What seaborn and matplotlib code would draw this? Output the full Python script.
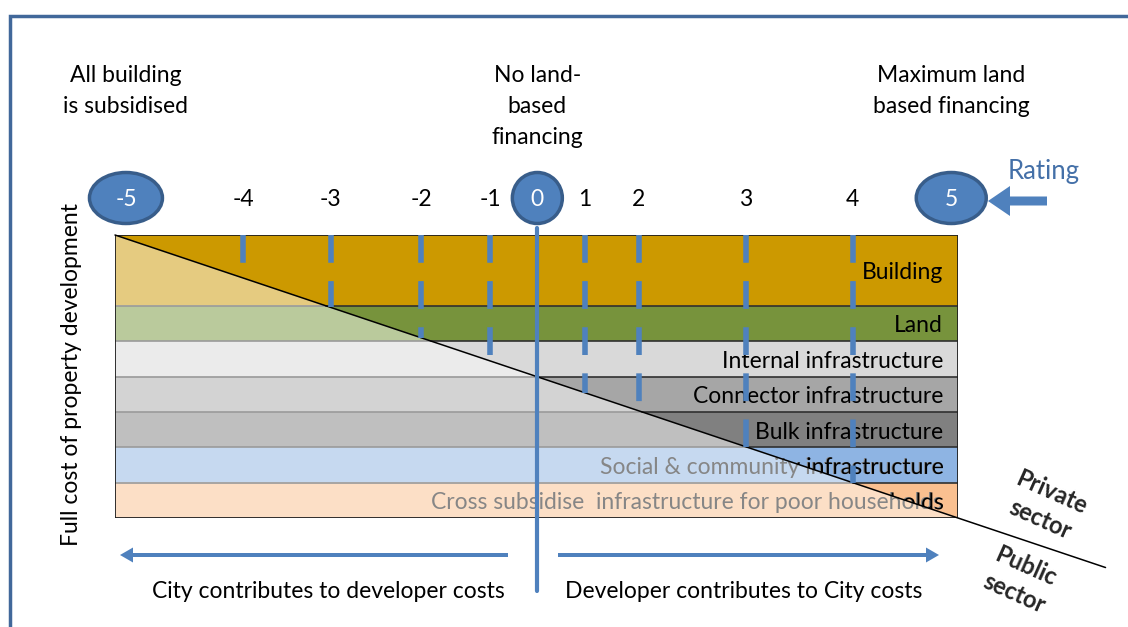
import numpy as np
import matplotlib.pyplot as plt
from matplotlib.patches import Polygon, Rectangle, Ellipse, FancyArrow, PathPatch
from matplotlib.transforms import blended_transform_factory, Affine2D
from matplotlib.textpath import TextPath
from matplotlib.font_manager import FontProperties
import seaborn as sns

sns.set_theme(style="white")
plt.rcParams['font.family'] = ['Lato', 'DejaVu Sans']

# cost components, top to bottom, and their share of the full cost
bands = ['Building', 'Land', 'Internal infrastructure', 'Connector infrastructure',
         'Bulk infrastructure', 'Social & community infrastructure',
         'Cross subsidise  infrastructure for poor households']
band_size = [2, 1, 1, 1, 1, 1, 1]
private_colors = ['#CC9900', '#77933C', '#D9D9D9', '#A6A6A6', '#808080', '#8EB4E3', '#FAC090']
public_colors = ['#E5CB80', '#BACA9C', '#EBEBEB', '#D3D3D3', '#BFBFBF', '#C6D9F0', '#FCDFC6']
public_text = ['black', 'black', 'black', 'black', 'black', '#868686', '#868686']

# rating scale and where each rating sits along the cost line
ratings = [-5, -4, -3, -2, -1, 0, 1, 2, 3, 4, 5]
rating_share = [0.013, 0.152, 0.256, 0.363, 0.445, 0.501, 0.557, 0.621, 0.748, 0.875, 0.992]
circled = {-5: 73, 0: 50, 5: 70}

headers = ['All building\nis subsidised', 'No land-\nbased\nfinancing', 'Maximum land\nbased financing']
header_rating = [-5, 0, 5]

FS = 16.5
W, H = 1128, 627
fig = plt.figure(figsize=(W / 100, H / 100), dpi=100)
fig.patch.set_facecolor('white')

# main axes = the cost box
ax = fig.add_axes([115 / W, 1 - 518 / H, 843 / W, 283 / H])
ax.set_facecolor('none')
ox = fig.add_axes([0, 0, 1, 1], zorder=5)
ox.set_xlim(0, W)
ox.set_ylim(H, 0)
ox.axis('off')
trans = blended_transform_factory(ax.transData, ox.transData)

total = sum(band_size)
edges = np.concatenate([[0], np.cumsum(band_size)])
ax.set_xlim(0, 1)
ax.set_ylim(total, 0)
fp = FontProperties(family='Lato')
fs_px = FS * 100 / 72
px_per_unit = 283 / total
label_right = 943

for i, name in enumerate(bands):
    y0, y1 = edges[i], edges[i + 1]
    d0, d1 = y0 / total, y1 / total   # diagonal crossing
    light = Polygon([(0, y0), (d0, y0), (d1, y1), (0, y1)], closed=True,
                    facecolor=public_colors[i], edgecolor='none', zorder=1)
    dark = Polygon([(d0, y0), (1, y0), (1, y1), (d1, y1)], closed=True,
                   facecolor=private_colors[i], edgecolor='none', zorder=1)
    ax.add_patch(light)
    ax.add_patch(dark)
    if i > 0:
        ax.plot([0, d0], [y0, y0], color='#9A9A9A', lw=1.2, zorder=2)
        ax.plot([d0, 1], [y0, y0], color='#303030', lw=1.2, zorder=2)
    base = 235 + (y0 + y1) / 2 * px_per_unit + 9
    ax.text(label_right, base, name, transform=ox.transData, ha='right', va='baseline',
            fontsize=FS, color=public_text[i], zorder=3)
    if public_text[i] != 'black':
        # the part of the label lying in the private (dark) area is black
        tp = TextPath((0, 0), name, size=fs_px, prop=fp)
        ext = tp.get_extents()
        tr = Affine2D().scale(1, -1).translate(label_right - ext.x1, base) + ox.transData
        pp = PathPatch(tp, transform=tr, facecolor='black', edgecolor='none', lw=0, zorder=3.1)
        ax.add_artist(pp)
        pp.set_clip_path(dark)

ax.add_patch(Rectangle((0, 0), 1, total, fill=False, edgecolor='#202020', lw=1.3, zorder=4))

# private / public split
diag_x = np.array([0, 1.175])
sns.lineplot(x=diag_x, y=diag_x * total, ax=ax, color='black', lw=1.1, zorder=4, clip_on=False)

# rating lines
for r, s in zip(ratings, rating_share):
    if r == 0:
        ax.plot([s, s], [-0.2, 10.05], color='#4F81BD', lw=3, zorder=6, clip_on=False)
    elif r not in circled:
        ax.plot([s, s], [0, s * total], color='#4F81BD', lw=4,
                linestyle=(0, (5, 3.3)), zorder=6, clip_on=False)

ax.set_xlim(0, 1)
ax.set_ylim(total, 0)
ax.axis('off')

# rating markers
for r, s in zip(ratings, rating_share):
    if r in circled:
        ox.add_patch(Ellipse((s, 198), circled[r] / 843, 51, transform=trans,
                             facecolor='#4F81BD', edgecolor='#385D8A', lw=2.5, zorder=3))
        ox.text(s, 199, str(r), transform=trans, ha='center', va='center',
                fontsize=FS, color='white', zorder=4)
    else:
        ox.text(s, 200, str(r), transform=trans, ha='center', va='center',
                fontsize=FS, color='black')

for txt, r in zip(headers, header_rating):
    s = rating_share[ratings.index(r)]
    ox.text(s, 65, txt, transform=trans, ha='center', va='top', fontsize=FS,
            linespacing=1.6, color='black')

ox.text(1044, 172, 'Rating', ha='center', va='center', fontsize=18.5, color='#4470A8')
ox.add_patch(FancyArrow(1047, 201, -37, 0, width=9, head_width=30, head_length=22,
                        length_includes_head=False, color='#4F81BD', lw=0))

ox.text(72, 375, 'Full cost of property development', rotation=90, ha='center',
        va='center', fontsize=FS, color='black')

ox.add_patch(FancyArrow(508, 555, -375, 0, width=4, head_width=15, head_length=13,
                        color='#4F81BD', lw=0))
ox.add_patch(FancyArrow(558, 555, 368, 0, width=4, head_width=15, head_length=13,
                        color='#4F81BD', lw=0))
ox.text(328, 592, 'City contributes to developer costs', ha='center', va='center',
        fontsize=FS, color='black')
ox.text(744, 592, 'Developer contributes to City costs', ha='center', va='center',
        fontsize=FS, color='black')

ox.text(1046, 506, 'Private\nsector', rotation=-24, ha='center', va='center',
        fontsize=17, fontweight='bold', linespacing=1.35, rotation_mode='anchor')
ox.text(1020, 580, 'Public\nsector', rotation=-24, ha='center', va='center',
        fontsize=17, fontweight='bold', linespacing=1.35, rotation_mode='anchor')

# outer frame
ox.plot([10, 10, W], [H, 16, 16], color='#41689A', lw=2.5, solid_joinstyle='miter')

fig.savefig('out.png', dpi=100)
